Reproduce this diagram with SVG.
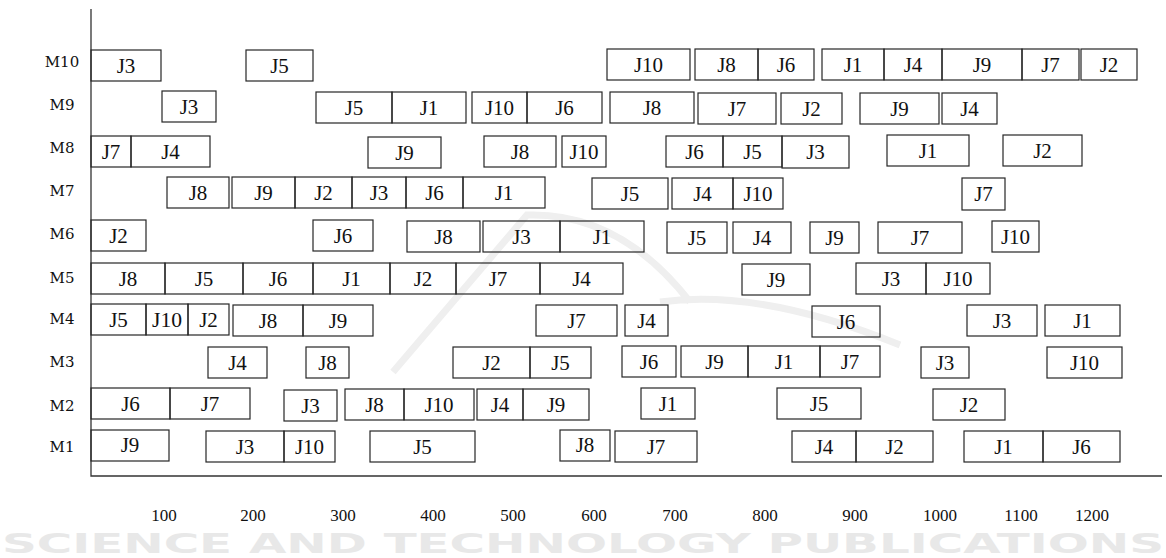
<svg xmlns="http://www.w3.org/2000/svg" width="1166" height="558" viewBox="0 0 1166 558">
<style>
.wm2{font-family:'DejaVu Sans', sans-serif;font-weight:bold;fill:#e8e8e8}
.arc{fill:none;stroke:#efefef;stroke-width:7}
.ax{stroke:#333;stroke-width:1.3;fill:none}
rect{fill:none;stroke:#262626;stroke-width:1.2}
.j{font-family:'Liberation Serif', 'Times New Roman', serif;font-size:21px;text-anchor:middle;fill:#111}
.m{font-family:'DejaVu Serif', serif;font-size:15px;text-anchor:middle;fill:#111}
.n{font-family:'Liberation Serif', serif;font-size:17px;text-anchor:middle;fill:#111}
</style>
<rect width="1166" height="558" style="fill:#fff;stroke:none"/>
<g id="watermark">
<path class="arc" d="M393 372 L527 215 Q620 212 690 302 M660 302 Q760 288 900 345"/>
<text class="wm2" x="2" y="553" font-size="26" textLength="1162" lengthAdjust="spacingAndGlyphs">SCIENCE AND TECHNOLOGY PUBLICATIONS</text>
</g>
<g id="axes">
<path class="ax" d="M91 9 V476 H1162"/>
</g>
<g id="machine-labels">
<text class="m" x="62" y="67">M10</text>
<text class="m" x="62" y="110">M9</text>
<text class="m" x="62" y="153">M8</text>
<text class="m" x="62" y="196">M7</text>
<text class="m" x="62" y="239">M6</text>
<text class="m" x="62" y="283">M5</text>
<text class="m" x="62" y="324">M4</text>
<text class="m" x="62" y="367">M3</text>
<text class="m" x="62" y="411">M2</text>
<text class="m" x="62" y="452">M1</text>
</g>
<g id="time-labels">
<text class="n" x="164" y="521">100</text>
<text class="n" x="253" y="521">200</text>
<text class="n" x="343" y="521">300</text>
<text class="n" x="433" y="521">400</text>
<text class="n" x="513" y="521">500</text>
<text class="n" x="594" y="521">600</text>
<text class="n" x="675" y="521">700</text>
<text class="n" x="765" y="521">800</text>
<text class="n" x="855" y="521">900</text>
<text class="n" x="940" y="521">1000</text>
<text class="n" x="1021" y="521">1100</text>
<text class="n" x="1092" y="521">1200</text>
</g>
<g id="connectors"></g>
<g id="M10">
<g id="m10-j3"><rect x="91" y="50" width="70" height="31"/><text class="j" x="126" y="72.5">J3</text></g>
<g id="m10-j5"><rect x="246" y="50" width="67" height="31"/><text class="j" x="279.5" y="72.5">J5</text></g>
<g id="m10-j10"><rect x="607" y="49" width="83" height="31"/><text class="j" x="648.5" y="71.5">J10</text></g>
<g id="m10-j8"><rect x="695" y="49" width="63" height="31"/><text class="j" x="726.5" y="71.5">J8</text></g>
<g id="m10-j6"><rect x="758" y="49" width="56" height="31"/><text class="j" x="786" y="71.5">J6</text></g>
<g id="m10-j1"><rect x="822" y="49" width="62" height="31"/><text class="j" x="853" y="71.5">J1</text></g>
<g id="m10-j4"><rect x="884" y="49" width="58" height="31"/><text class="j" x="913" y="71.5">J4</text></g>
<g id="m10-j9"><rect x="942" y="49" width="80" height="31"/><text class="j" x="982" y="71.5">J9</text></g>
<g id="m10-j7"><rect x="1022" y="49" width="57" height="31"/><text class="j" x="1050.5" y="71.5">J7</text></g>
<g id="m10-j2"><rect x="1081" y="49" width="56" height="31"/><text class="j" x="1109" y="71.5">J2</text></g>
</g>
<g id="M9">
<g id="m9-j3"><rect x="162" y="91" width="54" height="31"/><text class="j" x="189" y="113.5">J3</text></g>
<g id="m9-j5"><rect x="316" y="92" width="76" height="31"/><text class="j" x="354" y="114.5">J5</text></g>
<g id="m9-j1"><rect x="392" y="92" width="74" height="31"/><text class="j" x="429" y="114.5">J1</text></g>
<g id="m9-j10"><rect x="472" y="92" width="55" height="31"/><text class="j" x="499.5" y="114.5">J10</text></g>
<g id="m9-j6"><rect x="527" y="92" width="75" height="31"/><text class="j" x="564.5" y="114.5">J6</text></g>
<g id="m9-j8"><rect x="610" y="92" width="84" height="31"/><text class="j" x="652" y="114.5">J8</text></g>
<g id="m9-j7"><rect x="698" y="93" width="78" height="31"/><text class="j" x="737" y="115.5">J7</text></g>
<g id="m9-j2"><rect x="781" y="93" width="61" height="31"/><text class="j" x="811.5" y="115.5">J2</text></g>
<g id="m9-j9"><rect x="860" y="93" width="79" height="31"/><text class="j" x="899.5" y="115.5">J9</text></g>
<g id="m9-j4"><rect x="942" y="93" width="55" height="31"/><text class="j" x="969.5" y="115.5">J4</text></g>
</g>
<g id="M8">
<g id="m8-j7"><rect x="91" y="136" width="40" height="31"/><text class="j" x="111" y="158.5">J7</text></g>
<g id="m8-j4"><rect x="131" y="136" width="79" height="31"/><text class="j" x="170.5" y="158.5">J4</text></g>
<g id="m8-j9"><rect x="368" y="137" width="73" height="31"/><text class="j" x="404.5" y="159.5">J9</text></g>
<g id="m8-j8"><rect x="484" y="136" width="72" height="31"/><text class="j" x="520" y="158.5">J8</text></g>
<g id="m8-j10"><rect x="562" y="136" width="44" height="31"/><text class="j" x="584" y="158.5">J10</text></g>
<g id="m8-j6"><rect x="666" y="136" width="57" height="31"/><text class="j" x="694.5" y="158.5">J6</text></g>
<g id="m8-j5"><rect x="723" y="136" width="59" height="31"/><text class="j" x="752.5" y="158.5">J5</text></g>
<g id="m8-j3"><rect x="782" y="136" width="67" height="32"/><text class="j" x="815.5" y="159">J3</text></g>
<g id="m8-j1"><rect x="887" y="135" width="82" height="31"/><text class="j" x="928" y="157.5">J1</text></g>
<g id="m8-j2"><rect x="1003" y="135" width="79" height="31"/><text class="j" x="1042.5" y="157.5">J2</text></g>
</g>
<g id="M7">
<g id="m7-j8"><rect x="167" y="177" width="62" height="31"/><text class="j" x="198" y="199.5">J8</text></g>
<g id="m7-j9"><rect x="232" y="177" width="63" height="31"/><text class="j" x="263.5" y="199.5">J9</text></g>
<g id="m7-j2"><rect x="295" y="177" width="57" height="31"/><text class="j" x="323.5" y="199.5">J2</text></g>
<g id="m7-j3"><rect x="352" y="177" width="54" height="31"/><text class="j" x="379" y="199.5">J3</text></g>
<g id="m7-j6"><rect x="406" y="177" width="57" height="31"/><text class="j" x="434.5" y="199.5">J6</text></g>
<g id="m7-j1"><rect x="463" y="177" width="82" height="31"/><text class="j" x="504" y="199.5">J1</text></g>
<g id="m7-j5"><rect x="592" y="178" width="76" height="31"/><text class="j" x="630" y="200.5">J5</text></g>
<g id="m7-j4"><rect x="672" y="178" width="61" height="31"/><text class="j" x="702.5" y="200.5">J4</text></g>
<g id="m7-j10"><rect x="733" y="178" width="50" height="31"/><text class="j" x="758" y="200.5">J10</text></g>
<g id="m7-j7"><rect x="962" y="178" width="43" height="32"/><text class="j" x="983.5" y="201">J7</text></g>
</g>
<g id="M6">
<g id="m6-j2"><rect x="91" y="220" width="55" height="31"/><text class="j" x="118.5" y="242.5">J2</text></g>
<g id="m6-j6"><rect x="313" y="220" width="60" height="31"/><text class="j" x="343" y="242.5">J6</text></g>
<g id="m6-j8"><rect x="407" y="221" width="73" height="31"/><text class="j" x="443.5" y="243.5">J8</text></g>
<g id="m6-j3"><rect x="483" y="221" width="77" height="31"/><text class="j" x="521.5" y="243.5">J3</text></g>
<g id="m6-j1"><rect x="560" y="221" width="84" height="31"/><text class="j" x="602" y="243.5">J1</text></g>
<g id="m6-j5"><rect x="667" y="222" width="60" height="31"/><text class="j" x="697" y="244.5">J5</text></g>
<g id="m6-j4"><rect x="733" y="222" width="58" height="31"/><text class="j" x="762" y="244.5">J4</text></g>
<g id="m6-j9"><rect x="810" y="222" width="49" height="31"/><text class="j" x="834.5" y="244.5">J9</text></g>
<g id="m6-j7"><rect x="878" y="222" width="84" height="31"/><text class="j" x="920" y="244.5">J7</text></g>
<g id="m6-j10"><rect x="992" y="221" width="47" height="31"/><text class="j" x="1015.5" y="243.5">J10</text></g>
</g>
<g id="M5">
<g id="m5-j8"><rect x="91" y="263" width="74" height="31"/><text class="j" x="128" y="285.5">J8</text></g>
<g id="m5-j5"><rect x="165" y="263" width="78" height="31"/><text class="j" x="204" y="285.5">J5</text></g>
<g id="m5-j6"><rect x="243" y="263" width="70" height="31"/><text class="j" x="278" y="285.5">J6</text></g>
<g id="m5-j1"><rect x="313" y="263" width="77" height="31"/><text class="j" x="351.5" y="285.5">J1</text></g>
<g id="m5-j2"><rect x="390" y="263" width="66" height="31"/><text class="j" x="423" y="285.5">J2</text></g>
<g id="m5-j7"><rect x="456" y="263" width="84" height="31"/><text class="j" x="498" y="285.5">J7</text></g>
<g id="m5-j4"><rect x="540" y="263" width="83" height="31"/><text class="j" x="581.5" y="285.5">J4</text></g>
<g id="m5-j9"><rect x="742" y="264" width="68" height="31"/><text class="j" x="776" y="286.5">J9</text></g>
<g id="m5-j3"><rect x="856" y="263" width="70" height="31"/><text class="j" x="891" y="285.5">J3</text></g>
<g id="m5-j10"><rect x="926" y="263" width="64" height="31"/><text class="j" x="958" y="285.5">J10</text></g>
</g>
<g id="M4">
<g id="m4-j5"><rect x="91" y="304" width="55" height="31"/><text class="j" x="118.5" y="326.5">J5</text></g>
<g id="m4-j10"><rect x="146" y="304" width="42" height="31"/><text class="j" x="167" y="326.5" textLength="30" lengthAdjust="spacingAndGlyphs">J10</text></g>
<g id="m4-j2"><rect x="188" y="304" width="41" height="31"/><text class="j" x="208.5" y="326.5">J2</text></g>
<g id="m4-j8"><rect x="233" y="305" width="70" height="31"/><text class="j" x="268" y="327.5">J8</text></g>
<g id="m4-j9"><rect x="303" y="305" width="70" height="31"/><text class="j" x="338" y="327.5">J9</text></g>
<g id="m4-j7"><rect x="536" y="305" width="81" height="31"/><text class="j" x="576.5" y="327.5">J7</text></g>
<g id="m4-j4"><rect x="625" y="305" width="43" height="31"/><text class="j" x="646.5" y="327.5">J4</text></g>
<g id="m4-j6"><rect x="812" y="306" width="68" height="31"/><text class="j" x="846" y="328.5">J6</text></g>
<g id="m4-j3"><rect x="967" y="305" width="70" height="31"/><text class="j" x="1002" y="327.5">J3</text></g>
<g id="m4-j1"><rect x="1045" y="305" width="75" height="31"/><text class="j" x="1082.5" y="327.5">J1</text></g>
</g>
<g id="M3">
<g id="m3-j4"><rect x="208" y="347" width="59" height="31"/><text class="j" x="237.5" y="369.5">J4</text></g>
<g id="m3-j8"><rect x="306" y="347" width="43" height="31"/><text class="j" x="327.5" y="369.5">J8</text></g>
<g id="m3-j2"><rect x="453" y="347" width="77" height="31"/><text class="j" x="491.5" y="369.5">J2</text></g>
<g id="m3-j5"><rect x="530" y="347" width="61" height="31"/><text class="j" x="560.5" y="369.5">J5</text></g>
<g id="m3-j6"><rect x="622" y="346" width="54" height="31"/><text class="j" x="649" y="368.5">J6</text></g>
<g id="m3-j9"><rect x="681" y="346" width="67" height="31"/><text class="j" x="714.5" y="368.5">J9</text></g>
<g id="m3-j1"><rect x="748" y="346" width="72" height="31"/><text class="j" x="784" y="368.5">J1</text></g>
<g id="m3-j7"><rect x="820" y="346" width="60" height="31"/><text class="j" x="850" y="368.5">J7</text></g>
<g id="m3-j3"><rect x="921" y="347" width="48" height="31"/><text class="j" x="945" y="369.5">J3</text></g>
<g id="m3-j10"><rect x="1047" y="347" width="75" height="31"/><text class="j" x="1084.5" y="369.5">J10</text></g>
</g>
<g id="M2">
<g id="m2-j6"><rect x="91" y="388" width="79" height="31"/><text class="j" x="130.5" y="410.5">J6</text></g>
<g id="m2-j7"><rect x="170" y="388" width="80" height="31"/><text class="j" x="210" y="410.5">J7</text></g>
<g id="m2-j3"><rect x="284" y="390" width="53" height="31"/><text class="j" x="310.5" y="412.5">J3</text></g>
<g id="m2-j8"><rect x="345" y="389" width="59" height="31"/><text class="j" x="374.5" y="411.5">J8</text></g>
<g id="m2-j10"><rect x="404" y="389" width="70" height="31"/><text class="j" x="439" y="411.5">J10</text></g>
<g id="m2-j4"><rect x="477" y="389" width="46" height="31"/><text class="j" x="500" y="411.5">J4</text></g>
<g id="m2-j9"><rect x="523" y="389" width="66" height="31"/><text class="j" x="556" y="411.5">J9</text></g>
<g id="m2-j1"><rect x="641" y="388" width="54" height="31"/><text class="j" x="668" y="410.5">J1</text></g>
<g id="m2-j5"><rect x="777" y="388" width="84" height="31"/><text class="j" x="819" y="410.5">J5</text></g>
<g id="m2-j2"><rect x="933" y="389" width="72" height="31"/><text class="j" x="969" y="411.5">J2</text></g>
</g>
<g id="M1">
<g id="m1-j9"><rect x="91" y="430" width="78" height="31"/><text class="j" x="130" y="452">J9</text></g>
<g id="m1-j3"><rect x="206" y="431" width="78" height="31"/><text class="j" x="245" y="453.5">J3</text></g>
<g id="m1-j10"><rect x="284" y="431" width="51" height="31"/><text class="j" x="309.5" y="453.5">J10</text></g>
<g id="m1-j5"><rect x="370" y="431" width="105" height="31"/><text class="j" x="422.5" y="453.5">J5</text></g>
<g id="m1-j8"><rect x="560" y="430" width="50" height="31"/><text class="j" x="585" y="451.5">J8</text></g>
<g id="m1-j7"><rect x="615" y="431" width="82" height="31"/><text class="j" x="656" y="453.5">J7</text></g>
<g id="m1-j4"><rect x="792" y="431" width="64" height="31"/><text class="j" x="824" y="453.5">J4</text></g>
<g id="m1-j2"><rect x="856" y="431" width="77" height="31"/><text class="j" x="894.5" y="453.5">J2</text></g>
<g id="m1-j1"><rect x="964" y="431" width="79" height="31"/><text class="j" x="1003.5" y="453.5">J1</text></g>
<g id="m1-j6"><rect x="1043" y="431" width="77" height="31"/><text class="j" x="1081.5" y="453.5">J6</text></g>
</g>
</svg>
